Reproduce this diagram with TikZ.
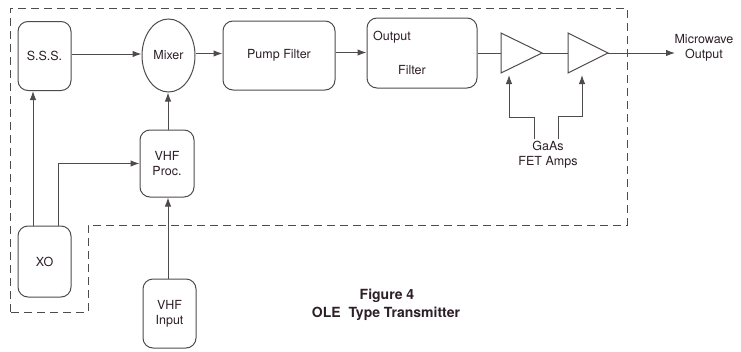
\documentclass[tikz,border=0pt]{standalone}
\usepackage{fontspec}
\setmainfont{TeX Gyre Heros}
\usetikzlibrary{arrows.meta,shapes.geometric}
\definecolor{ink}{RGB}{45,30,40}
\definecolor{ln}{RGB}{80,75,75}
\tikzset{
  blk/.style={draw=ln, line width=1pt, rounded corners=10pt, text=ink, font=\fontsize{12.5}{15}\selectfont, align=center, inner sep=0pt},
  arr/.style={draw=ln, line width=1pt, -{Latex[length=9pt,width=6.5pt]}},
  wire/.style={draw=ln, line width=1pt},
  bound/.style={draw=ln, line width=1pt, dash pattern=on 8pt off 5pt},
  lbl/.style={text=ink, font=\fontsize{12.5}{15}\selectfont, align=center, inner sep=0pt},
  captxt/.style={text=ink, font=\bfseries\fontsize{14}{17}\selectfont, align=center, inner sep=0pt}
}
\begin{document}
\begin{tikzpicture}[x=1pt,y=-1pt]
\useasboundingbox (0,0) rectangle (741,351);
% boundary
\draw[bound] (10,312) -- (10,8) -- (627,8) -- (627,225) -- (88,225) -- (88,312) -- cycle;
% blocks
\node[blk, minimum width=53pt, minimum height=69pt] (sss) at (44.5,56) {S.S.S.};
\node[blk, ellipse, rounded corners=0pt, minimum width=53pt, minimum height=73pt] (mix) at (168.5,55.5) {Mixer};
\node[blk, minimum width=54pt, minimum height=67pt] (proc) at (167,163.5) {VHF\\Proc.};
\node[blk, minimum width=53pt, minimum height=71pt] (xo) at (44.5,261.5) {XO};
\node[blk, minimum width=53pt, minimum height=69pt] (vin) at (169.5,313.5) {VHF\\Input};
\node[blk, minimum width=112pt, minimum height=69pt] (pump) at (279,55.5) {Pump Filter};
\node[blk, minimum width=110pt, minimum height=70pt] (outf) at (422,53) {};
\node[lbl, anchor=west] (outt) at (373,37) {Output};
\node[lbl] (filt) at (412,70) {Filter};
% amplifiers
\coordinate (a1t) at (501,33); \coordinate (a1b) at (501,73); \coordinate (a1o) at (542,53);
\coordinate (a2t) at (568,33); \coordinate (a2b) at (568,73); \coordinate (a2o) at (608,53);
\draw[wire, line join=miter] (a1t) -- (a1o) -- (a1b) -- cycle;
\draw[wire, line join=miter] (a2t) -- (a2o) -- (a2b) -- cycle;
\coordinate (mwend) at (675,53);
\node[lbl] (mw) at (704,48) {Microwave\\Output};
\node[lbl] (gaas) at (548,155) {GaAs\\FET Amps};
\coordinate (g1tip) at (509,75);
\coordinate (g2tip) at (582,75);
% caption
\node[captxt] (fig) at (387,296) {Figure 4};
\node[captxt] (cap2) at (386,314) {OLE\ \ Type Transmitter};
% connectors
\draw[arr] (sss.east |- 0,54) -- (mix.west |- 0,54);
\draw[arr] (mix.east |- 0,53.5) -- (pump.west |- 0,53.5);
\draw[arr] (pump.east |- 0,52.5) -- (outf.west |- 0,52.5);
\draw[wire] (outf.east |- a1o) -- (a1t |- a1o);
\draw[wire] (a1o) -- (a2t |- a2o);
\draw[arr] (a2o) -- (mwend);
\draw[arr] ([xshift=-11.5pt]xo.north) -- ([xshift=-11.5pt]xo.north |- sss.south);
\draw[arr] ([xshift=13.5pt]xo.north) |- (proc.west);
\draw[arr] (vin.north -| 168,0) -- (proc.south -| 168,0);
\draw[arr] (proc.north -| 168,0) -- (mix.south -| 168,0);
\draw[arr] ([xshift=-14pt,yshift=2pt]gaas.north) |- (g1tip |- 0,117) -- (g1tip);
\draw[arr] ([xshift=10pt,yshift=2pt]gaas.north) |- (g2tip |- 0,116) -- (g2tip);
\end{tikzpicture}
\end{document}
